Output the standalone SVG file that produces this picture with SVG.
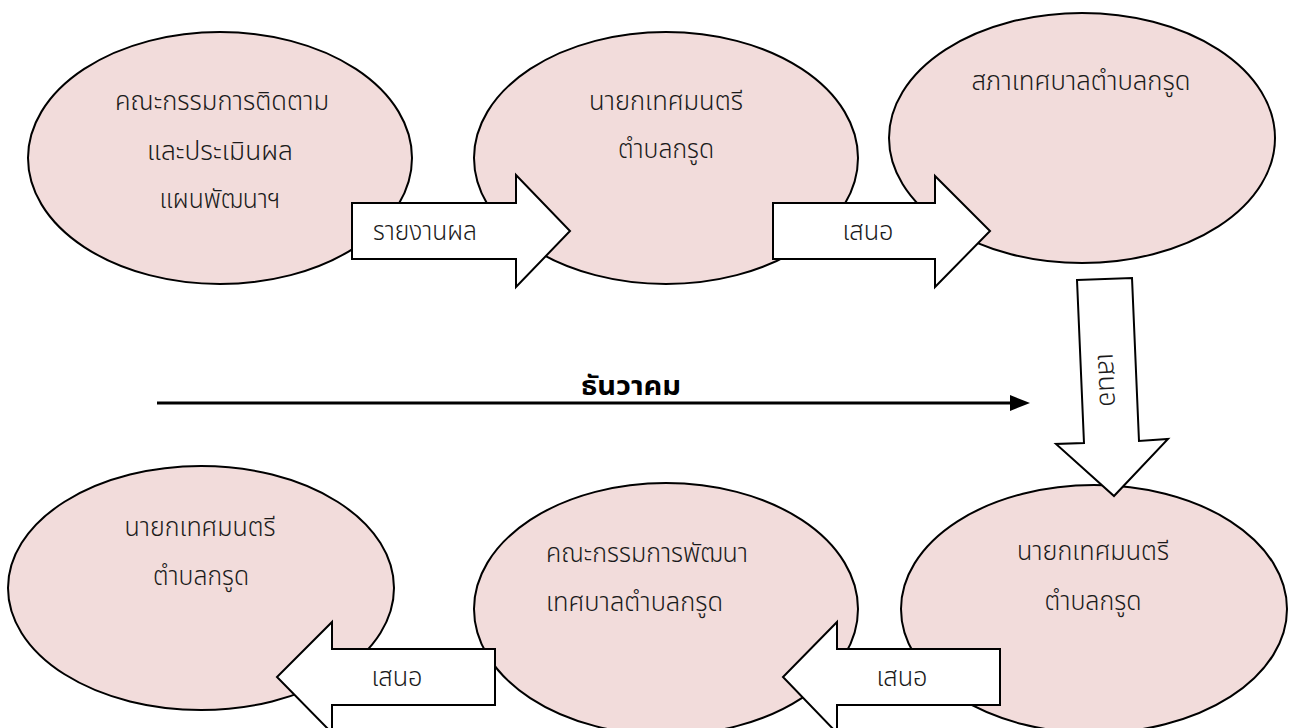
<svg xmlns="http://www.w3.org/2000/svg" width="1296" height="728" viewBox="0 0 1296 728">
<style>
.node ellipse{fill:#F2DCDB;stroke:#000;stroke-width:2}
.conn .blk{fill:#fff;stroke:#000;stroke-width:2;stroke-linejoin:miter}
text{font-family:'Noto Sans Thai','Noto Sans','DejaVu Sans',sans-serif;font-size:27px;font-weight:300;fill:#1a1a1a;text-anchor:middle}
.l{text-anchor:start}
.bold{font-weight:bold;fill:#000;font-size:27px}
</style>
<rect width="1296" height="728" fill="#fff"/>
<g id="n1" class="node">
<ellipse cx="220" cy="158" rx="192" ry="126"/>
<text x="222" y="110" textLength="214" lengthAdjust="spacingAndGlyphs">คณะกรรมการติดตาม</text>
<text x="220" y="160" textLength="146" lengthAdjust="spacingAndGlyphs">และประเมินผล</text>
<text x="220" y="208" textLength="121" lengthAdjust="spacingAndGlyphs">แผนพัฒนาฯ</text>
</g>
<g id="n2" class="node">
<ellipse cx="666" cy="158" rx="192" ry="126"/>
<text x="666" y="110" textLength="154" lengthAdjust="spacingAndGlyphs">นายกเทศมนตรี</text>
<text x="666" y="158" textLength="96" lengthAdjust="spacingAndGlyphs">ตำบลกรูด</text>
</g>
<g id="n3" class="node">
<ellipse cx="1082" cy="138" rx="193" ry="125"/>
<text x="1081" y="90" textLength="219" lengthAdjust="spacingAndGlyphs">สภาเทศบาลตำบลกรูด</text>
</g>
<g id="n4" class="node">
<ellipse cx="201" cy="588" rx="193" ry="122"/>
<text x="200" y="536" textLength="151" lengthAdjust="spacingAndGlyphs">นายกเทศมนตรี</text>
<text x="201" y="585" textLength="96" lengthAdjust="spacingAndGlyphs">ตำบลกรูด</text>
</g>
<g id="n5" class="node">
<ellipse cx="666" cy="609" rx="192" ry="126"/>
<text class="l" x="546" y="562" textLength="202" lengthAdjust="spacingAndGlyphs">คณะกรรมการพัฒนา</text>
<text class="l" x="546" y="611" textLength="177" lengthAdjust="spacingAndGlyphs">เทศบาลตำบลกรูด</text>
</g>
<g id="n6" class="node">
<ellipse cx="1094" cy="609" rx="193" ry="124"/>
<text x="1093" y="560" textLength="152" lengthAdjust="spacingAndGlyphs">นายกเทศมนตรี</text>
<text x="1093" y="610" textLength="97" lengthAdjust="spacingAndGlyphs">ตำบลกรูด</text>
</g>
<g id="connectors" class="conn">
<polygon class="blk" points="352,203 516,203 516,175 570,231 516,287 516,259 352,259"/>
<text x="425" y="240" textLength="104" lengthAdjust="spacingAndGlyphs">รายงานผล</text>
<polygon class="blk" points="773,203 935,203 935,176 990,231 935,287 935,259 773,259"/>
<text x="868" y="240" textLength="51" lengthAdjust="spacingAndGlyphs">เสนอ</text>
<polygon class="blk" points="1077,280 1132,278 1139,441 1168,439 1114,496 1056,444 1084,443"/>
<text x="0" y="0" transform="translate(1107,380) rotate(87.5)" dy="8" textLength="54" lengthAdjust="spacingAndGlyphs">เสนอ</text>
<polygon class="blk" points="1000,649 837,649 837,622 783,677 837,733 837,705 1000,705"/>
<text x="902" y="686" textLength="51" lengthAdjust="spacingAndGlyphs">เสนอ</text>
<polygon class="blk" points="495,649 332,649 332,622 277,677 332,733 332,705 495,705"/>
<text x="397" y="686" textLength="51" lengthAdjust="spacingAndGlyphs">เสนอ</text>
<line x1="157" y1="403" x2="1012" y2="403" stroke="#000" stroke-width="3"/>
<polygon points="1010,395 1030,403 1010,411" fill="#000"/>
<text class="bold" x="631" y="395" textLength="100" lengthAdjust="spacingAndGlyphs">ธันวาคม</text>
</g>
</svg>
